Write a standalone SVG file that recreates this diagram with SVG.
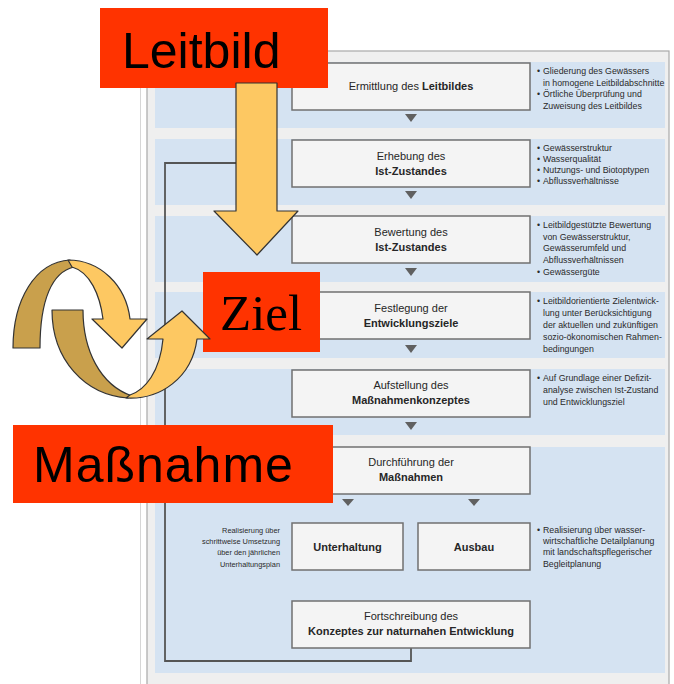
<svg xmlns="http://www.w3.org/2000/svg" width="674" height="684" viewBox="0 0 674 684">
<style>
.band{fill:#d5e3f2}
.box{fill:#f4f4f4;stroke:#707070;stroke-width:1.5}
.tri{fill:#606060}
.bt{font-family:"Liberation Sans",Arial,sans-serif;font-size:11px;fill:#262626;text-anchor:middle}
.b{font-weight:bold}
.note{font-family:"Liberation Sans",Arial,sans-serif;font-size:8.8px;fill:#2a2a2a}
.lnote{font-family:"Liberation Sans",Arial,sans-serif;font-size:7.4px;fill:#2a2a2a;text-anchor:end}
.red{fill:#ff3300}
.big{font-family:"Liberation Sans",Arial,sans-serif;font-size:50px;fill:#000}
.yel{fill:#fdc862;stroke:#333;stroke-width:1.2;stroke-linejoin:round}
.dark{fill:#c9a04c;stroke:#333;stroke-width:1.2;stroke-linejoin:round}
.conn{fill:none;stroke:#555;stroke-width:1.8}
</style>
<rect width="674" height="684" fill="#ffffff"/>
<line x1="140.5" y1="50" x2="140.5" y2="684" stroke="#d6d6d6" stroke-width="1"/>
<rect x="147" y="51" width="522" height="640" fill="#efefef" stroke="#a8a8a8" stroke-width="1.2"/>
<g id="bands">
<rect class="band" x="155" y="62" width="510" height="66"/>
<rect class="band" x="155" y="139" width="510" height="66"/>
<rect class="band" x="155" y="216" width="510" height="66"/>
<rect class="band" x="155" y="292" width="510" height="66"/>
<rect class="band" x="155" y="369" width="510" height="66"/>
<rect class="band" x="155" y="447" width="510" height="226"/>
</g>
<g id="connectors">
<polyline class="conn" points="411,648 411,661 165,661 165,163 260,163"/>
<polygon class="tri" points="405,114 417,114 411,122"/>
<polygon class="tri" points="405,191 417,191 411,199"/>
<polygon class="tri" points="405,268 417,268 411,276"/>
<polygon class="tri" points="405,345 417,345 411,353"/>
<polygon class="tri" points="405,422 417,422 411,430"/>
<polygon class="tri" points="342,499 354,499 348,506"/>
<polygon class="tri" points="468,499 480,499 474,506"/>
</g>
<g id="n1">
<rect class="box" x="292" y="63" width="238" height="47"/>
<text class="bt" x="411" y="90">Ermittlung des <tspan class="b">Leitbildes</tspan></text>
<text class="note" x="537" y="74">•</text>
<text class="note" x="543" y="74">Gliederung des Gewässers</text>
<text class="note" x="543" y="85.5">in homogene Leitbildabschnitte</text>
<text class="note" x="537" y="97">•</text>
<text class="note" x="543" y="97">Örtliche Überprüfung und</text>
<text class="note" x="543" y="108.5">Zuweisung des Leitbildes</text>
</g>
<g id="n2">
<rect class="box" x="292" y="140" width="238" height="47"/>
<text class="bt" x="411" y="160">Erhebung des</text>
<text class="bt b" x="411" y="175">Ist-Zustandes</text>
<text class="note" x="537" y="151">•</text>
<text class="note" x="543" y="151">Gewässerstruktur</text>
<text class="note" x="537" y="162">•</text>
<text class="note" x="543" y="162">Wasserqualität</text>
<text class="note" x="537" y="173">•</text>
<text class="note" x="543" y="173">Nutzungs- und Biotoptypen</text>
<text class="note" x="537" y="184">•</text>
<text class="note" x="543" y="184">Abflussverhältnisse</text>
</g>
<g id="n3">
<rect class="box" x="292" y="216" width="238" height="47"/>
<text class="bt" x="411" y="236">Bewertung des</text>
<text class="bt b" x="411" y="251">Ist-Zustandes</text>
<text class="note" x="537" y="228">•</text>
<text class="note" x="543" y="228">Leitbildgestützte Bewertung</text>
<text class="note" x="543" y="239.5">von Gewässerstruktur,</text>
<text class="note" x="543" y="251">Gewässerumfeld und</text>
<text class="note" x="543" y="263">Abflussverhältnissen</text>
<text class="note" x="537" y="275">•</text>
<text class="note" x="543" y="275">Gewässergüte</text>
</g>
<g id="n4">
<rect class="box" x="292" y="292" width="238" height="47"/>
<text class="bt" x="411" y="312">Festlegung der</text>
<text class="bt b" x="411" y="327">Entwicklungsziele</text>
<text class="note" x="537" y="304">•</text>
<text class="note" x="543" y="304">Leitbildorientierte Zielentwick-</text>
<text class="note" x="543" y="316">lung unter Berücksichtigung</text>
<text class="note" x="543" y="328">der aktuellen und zukünftigen</text>
<text class="note" x="543" y="340">sozio-ökonomischen Rahmen-</text>
<text class="note" x="543" y="352">bedingungen</text>
</g>
<g id="n5">
<rect class="box" x="292" y="370" width="238" height="47"/>
<text class="bt" x="411" y="389">Aufstellung des</text>
<text class="bt b" x="411" y="404">Maßnahmenkonzeptes</text>
<text class="note" x="537" y="381">•</text>
<text class="note" x="543" y="381">Auf Grundlage einer Defizit-</text>
<text class="note" x="543" y="393">analyse zwischen Ist-Zustand</text>
<text class="note" x="543" y="405">und Entwicklungsziel</text>
</g>
<g id="n6">
<rect class="box" x="292" y="447" width="238" height="47"/>
<text class="bt" x="411" y="466">Durchführung der</text>
<text class="bt b" x="411" y="481">Maßnahmen</text>
</g>
<g id="n7">
<rect class="box" x="292" y="523" width="111" height="47"/>
<text class="bt b" x="347.5" y="551">Unterhaltung</text>
<text class="lnote" x="280" y="533">Realisierung über</text>
<text class="lnote" x="280" y="544">schrittweise Umsetzung</text>
<text class="lnote" x="280" y="555">über den jährlichen</text>
<text class="lnote" x="280" y="567">Unterhaltungsplan</text>
</g>
<g id="n8">
<rect class="box" x="418" y="523" width="112" height="47"/>
<text class="bt b" x="474" y="551">Ausbau</text>
<text class="note" x="537" y="533">•</text>
<text class="note" x="543" y="533">Realisierung über wasser-</text>
<text class="note" x="543" y="544">wirtschaftliche Detailplanung</text>
<text class="note" x="543" y="555">mit landschaftspflegerischer</text>
<text class="note" x="543" y="567">Begleitplanung</text>
</g>
<g id="n9">
<rect class="box" x="292" y="601" width="238" height="47"/>
<text class="bt" x="411" y="620">Fortschreibung des</text>
<text class="bt b" x="411" y="635">Konzeptes zur naturnahen Entwicklung</text>
</g>
<g id="leitbild">
<rect class="red" x="100" y="8" width="228" height="80"/>
<text class="big" x="122" y="68">Leitbild</text>
</g>
<g id="bigarrow">
<path class="yel" d="M236,83 L277,83 L277,211 L298,211 L257,255 L214,211 L236,211 Z"/>
</g>
<g id="ziel">
<rect class="red" x="203" y="272" width="117" height="80"/>
<text x="220" y="330" font-family="'Liberation Serif','Times New Roman',serif" font-size="51" fill="#000">Ziel</text>
</g>
<g id="massnahme">
<rect class="red" x="13" y="425" width="320" height="78"/>
<text class="big" x="33" y="482" letter-spacing="1">Maßnahme</text>
</g>
<g id="cycle">
<path class="dark" d="M13,348 C13,300 35,262 70,260 L74,267 C52,272 40,300 40,348 Z"/>
<path class="yel" d="M68,260 C100,260 126,285 130,319 L147,319 L122,348 L92,319 L103,319 C100,295 90,272 72,267 Z"/>
<path class="dark" d="M52,310 L83,310 C83,350 100,385 132,396 L128,398 C85,395 52,360 52,310 Z"/>
<path class="yel" d="M126,398 C160,400 192,378 197,339 L210,339 L182,311 L147,339 L163,339 C160,372 145,390 130,395 Z"/>
</g>
</svg>
